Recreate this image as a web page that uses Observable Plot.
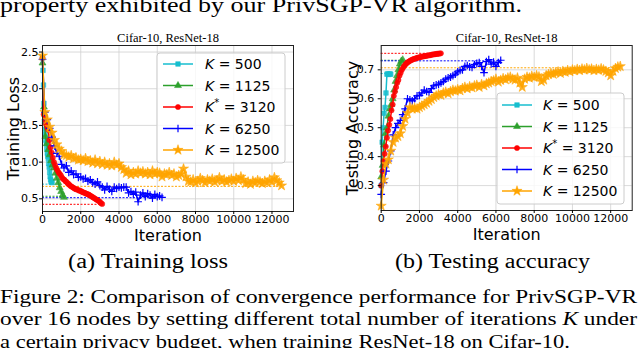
<!DOCTYPE html>
<html><head><meta charset="utf-8">
<script src="https://cdn.jsdelivr.net/npm/d3@7"></script>
<script src="https://cdn.jsdelivr.net/npm/@observablehq/plot@0.6"></script>
<style>
body{margin:0;background:#fff;}
#page{position:relative;width:640px;height:348px;overflow:hidden;background:#fff;}
#left,#right{position:absolute;top:0;}
#left{left:0;} #right{left:320px;}
#pagetext{position:absolute;left:0;top:0;}
</style></head>
<body><div id="page"><div id="left"></div><div id="right"></div><svg id="pagetext" width="640" height="348"></svg></div>
<script>
// ---------- data ----------
const seriesNames = ["K=500", "K=1125", "K*=3120", "K=6250", "K=12500"];
const legendValues = ["500", "1125", "3120", "6250", "12500"];
const legendStar = [false, false, true, false, false];
const lastIter = [500, 1125, 3120, 6250, 12500];
const stepsTrain = [25, 75, 60, 125, 125];
const stepsTest = [50, 75, 60, 125, 125];
const xTicks = [0, 2000, 4000, 6000, 8000, 10000, 12000];
const lossTicks = [0.5, 1.0, 1.5, 2.0, 2.5];
const accTicks = [0.3, 0.4, 0.5, 0.6, 0.7];

const loss500 = [2.42, 2.25, 2.05, 1.80, 1.55, 1.45, 1.38, 1.30, 1.25, 1.18,
  1.12, 1.08, 1.05, 0.98, 0.93, 0.86, 0.80, 0.76, 0.73, 0.74, 0.72];
const loss1125 = [2.35, 1.75, 1.35, 1.25, 1.17, 1.10, 1.02, 0.96, 0.92, 0.85,
  0.78, 0.72, 0.65, 0.60, 0.55, 0.52];
const loss3120 = [2.42, 1.65, 1.58, 1.52, 1.48, 1.44, 1.30, 1.20, 1.13, 1.06,
  1.00, 0.96, 0.92, 0.89, 0.86, 0.84, 0.82, 0.79, 0.77, 0.76,
  0.74, 0.73, 0.71, 0.70, 0.68, 0.67, 0.66, 0.65, 0.64, 0.63,
  0.63, 0.62, 0.61, 0.61, 0.60, 0.59, 0.585, 0.58, 0.57, 0.565,
  0.56, 0.55, 0.54, 0.53, 0.52, 0.51, 0.50, 0.49, 0.48, 0.47,
  0.46, 0.44, 0.43];
const loss6250 = [2.40, 1.68, 1.58, 1.46, 1.34, 1.22, 1.12, 1.08, 0.97, 0.92,
  0.95, 0.86, 0.88, 0.83, 0.84, 0.79, 0.80, 0.77, 0.78, 0.74,
  0.76, 0.72, 0.70, 0.73, 0.68, 0.66, 0.62, 0.67, 0.63, 0.60,
  0.66, 0.64, 0.66, 0.65, 0.66, 0.66, 0.58, 0.60, 0.56, 0.59,
  0.46, 0.55, 0.58, 0.53, 0.57, 0.55, 0.51, 0.56, 0.53, 0.54,
  0.52];
const loss12500 = [2.45, 1.68, 1.58, 1.48, 1.40, 1.30, 1.24, 1.18, 1.15, 1.10,
  1.09, 1.07, 1.09, 1.05, 1.06, 1.03, 1.04, 1.02, 1.05, 1.01,
  1.02, 0.99, 1.03, 0.98, 1.01, 0.97, 1.00, 0.96, 0.98, 0.95,
  1.00, 0.96, 0.98, 0.93, 0.90, 0.85, 0.88, 0.83, 0.86, 0.84,
  0.88, 0.85, 0.87, 0.84, 0.86, 0.83, 0.88, 0.84, 0.86, 0.85,
  0.80, 0.84, 0.83, 0.86, 0.82, 0.84, 0.80, 0.82, 0.84, 0.91,
  0.80, 0.74, 0.73, 0.76, 0.72, 0.74, 0.78, 0.75, 0.72, 0.76,
  0.74, 0.77, 0.73, 0.75, 0.79, 0.74, 0.76, 0.73, 0.75, 0.77,
  0.74, 0.78, 0.75, 0.80, 0.76, 0.71, 0.73, 0.70, 0.74, 0.72,
  0.75, 0.73, 0.71, 0.74, 0.72, 0.76, 0.73, 0.79, 0.75, 0.72,
  0.68];
const lossRef = [0.70, 0.535, 0.425, 0.515, 0.67];

const acc500 = [0.30, 0.45, 0.50, 0.55, 0.57, 0.62, 0.685, 0.686, 0.684, 0.686, 0.685];
const acc1125 = [0.33, 0.37, 0.44, 0.48, 0.50, 0.54, 0.565, 0.58, 0.60, 0.63,
  0.66, 0.68, 0.70, 0.72, 0.73, 0.735];
const acc3120 = [0.30, 0.35, 0.385, 0.41, 0.435, 0.465, 0.49, 0.51, 0.53, 0.56,
  0.58, 0.61, 0.625, 0.64, 0.655, 0.665, 0.68, 0.69, 0.70, 0.707,
  0.713, 0.718, 0.722, 0.726, 0.728, 0.731, 0.733, 0.735, 0.737, 0.738,
  0.739, 0.741, 0.742, 0.743, 0.744, 0.745, 0.746, 0.746, 0.748, 0.748,
  0.749, 0.750, 0.750, 0.751, 0.752, 0.753, 0.753, 0.754, 0.755, 0.755,
  0.756, 0.756, 0.757];
const acc6250 = [0.27, 0.31, 0.35, 0.385, 0.42, 0.475, 0.50, 0.515, 0.525, 0.545,
  0.565, 0.60, 0.596, 0.593, 0.60, 0.61, 0.612, 0.62, 0.63, 0.625,
  0.622, 0.635, 0.645, 0.648, 0.65, 0.655, 0.66, 0.668, 0.672, 0.675,
  0.68, 0.685, 0.693, 0.698, 0.70, 0.712, 0.715, 0.71, 0.708, 0.718,
  0.722, 0.725, 0.712, 0.69, 0.728, 0.735, 0.72, 0.727, 0.712, 0.725,
  0.733];
const acc12500 = [0.23, 0.32, 0.375, 0.39, 0.42, 0.45, 0.465, 0.47, 0.48, 0.505,
  0.53, 0.55, 0.57, 0.565, 0.568, 0.565, 0.57, 0.575, 0.58, 0.585,
  0.592, 0.598, 0.605, 0.61, 0.615, 0.612, 0.62, 0.623, 0.618, 0.625,
  0.63, 0.627, 0.632, 0.628, 0.636, 0.64, 0.635, 0.642, 0.638, 0.645,
  0.647, 0.64, 0.65, 0.645, 0.652, 0.655, 0.66, 0.662, 0.668, 0.658,
  0.664, 0.67, 0.666, 0.672, 0.675, 0.668, 0.665, 0.672, 0.655, 0.64,
  0.668, 0.675, 0.672, 0.678, 0.674, 0.68, 0.676, 0.66, 0.665, 0.68,
  0.684, 0.688, 0.685, 0.69, 0.693, 0.688, 0.695, 0.692, 0.698, 0.694,
  0.70, 0.697, 0.702, 0.698, 0.703, 0.70, 0.705, 0.70, 0.703, 0.698,
  0.702, 0.699, 0.704, 0.70, 0.695, 0.69, 0.68, 0.695, 0.705, 0.71,
  0.712];
const accRef = [0.687, 0.733, 0.757, 0.731, 0.707];

// ---------- styles ----------
const seriesColors = ["#17becf", "#2ca02c", "#ff0000", "#0000ff", "#ffa500"];
const plotSymbols = ["square", "triangle", "circle", "plus", "star"];
const d3Symbols = [d3.symbolSquare, d3.symbolTriangle, d3.symbolCircle, d3.symbolPlus, d3.symbolStar];

function buildChart(cfg) {
  const marks = [
    Plot.gridX(xTicks, {stroke: "#d0d0d0", strokeOpacity: 1, strokeWidth: 0.8}),
    Plot.gridY(cfg.yTicks, {stroke: "#d0d0d0", strokeOpacity: 1, strokeWidth: 0.8}),
    Plot.ruleY(cfg.refs.map((v, i) => ({v, i})), {
      y: "v", x1: 0, x2: d => lastIter[d.i], stroke: d => seriesNames[d.i],
      strokeDasharray: "2,1.5", strokeWidth: 1
    })
  ];
  cfg.series.forEach((vals, i) => {
    const rows = vals.map((v, j) => ({x: j * cfg.steps[i], y: v}));
    marks.push(Plot.line(rows, {x: "x", y: "y", stroke: seriesColors[i], strokeWidth: 1.5}));
    marks.push(Plot.dot(rows, {
      x: "x", y: "y", symbol: plotSymbols[i], r: i === 4 ? 3.2 : 2.6,
      fill: i === 3 ? "none" : seriesColors[i], stroke: seriesColors[i],
      strokeWidth: i === 3 ? 1.2 : 0.5, fillOpacity: 0.85
    }));
  });
  marks.push(
    Plot.frame({stroke: "#222", strokeWidth: 1}),
    Plot.axisX(xTicks, {tickSize: 3, tickPadding: 0.5, label: null, fontSize: 11, tickFormat: d => String(d)}),
    Plot.axisY(cfg.yTicks, {tickSize: 3, tickPadding: cfg.yPad, label: null, fontSize: 11, tickFormat: d => d.toFixed(1)}),
    Plot.text([cfg.ylabel], {text: d => d, frameAnchor: "left", textAnchor: "middle", lineAnchor: "middle",
      rotate: -90, dx: cfg.ylabelDx, fontSize: 16, fill: "black"}),
    Plot.text(["Iteration"], {text: d => d, frameAnchor: "bottom", textAnchor: "middle", lineAnchor: "middle",
      dy: 24, fontSize: 16, fill: "black"}),
    Plot.text(["Cifar-10, ResNet-18"], {text: d => d, frameAnchor: "top", textAnchor: "middle", lineAnchor: "middle",
      dy: -8, fontSize: 12.5, fontFamily: "Liberation Serif", fill: "black"})
  );
  const svg = Plot.plot({
    width: 320, height: 250,
    marginLeft: cfg.ml, marginRight: cfg.mr, marginTop: 45, marginBottom: cfg.mb,
    style: {fontFamily: "DejaVu Sans", fontSize: "11px", color: "black", background: "transparent", overflow: "visible"},
    x: {domain: [0, 13125]},
    y: {domain: cfg.yDomain},
    color: {domain: seriesNames, range: seriesColors},
    marks
  });
  addLegend(svg, cfg.legend);
  return svg;
}

function addLegend(svg, b) {
  const g = d3.select(svg).append("g").attr("text-anchor", "start");
  g.append("rect").attr("x", b.x).attr("y", b.y).attr("width", b.w).attr("height", b.h)
    .attr("rx", 3).attr("fill", "white").attr("fill-opacity", 0.8).attr("stroke", "#cccccc");
  seriesNames.forEach((n, i) => {
    const y = b.y0 + i * b.gap;
    g.append("line").attr("x1", b.lx).attr("x2", b.lx + 30).attr("y1", y).attr("y2", y)
      .attr("stroke", seriesColors[i]).attr("stroke-width", 1.5);
    const r = i === 4 ? 3.2 : 2.6;
    g.append("path").attr("d", d3.symbol(d3Symbols[i], Math.PI * r * r)())
      .attr("transform", `translate(${b.lx + 15},${y})`)
      .attr("fill", i === 3 ? "none" : seriesColors[i]).attr("stroke", seriesColors[i])
      .attr("stroke-width", i === 3 ? 1.2 : 0.5);
    const t = g.append("text").attr("x", b.tx).attr("y", y + 5).attr("text-anchor", "start")
      .attr("font-family", "DejaVu Sans").attr("font-size", 14).attr("fill", "black");
    t.append("tspan").attr("font-style", "italic").text("K");
    if (legendStar[i]) t.append("tspan").attr("dy", -6).attr("font-size", 10).text("*");
    t.append("tspan").attr("dy", legendStar[i] ? 6 : 0).text(" = " + legendValues[i]);
  });
}

document.getElementById("left").appendChild(buildChart({
  series: [loss500, loss1125, loss3120, loss6250, loss12500], steps: stepsTrain, refs: lossRef,
  yTicks: lossTicks, yDomain: [0.327, 2.589], yPad: 1, ylabel: "Training Loss", ylabelDx: -29,
  ml: 42, mr: 27, mb: 39,
  legend: {x: 157, y: 53, w: 128, h: 110, y0: 64, gap: 21.5, lx: 163, tx: 205}
}));
document.getElementById("right").appendChild(buildChart({
  series: [acc500, acc1125, acc3120, acc6250, acc12500], steps: stepsTest, refs: accRef,
  yTicks: accTicks, yDomain: [0.214, 0.784], yPad: 4, ylabel: "Testing Accuracy", ylabelDx: -28,
  ml: 60.7, mr: 8.3, mb: 40,
  legend: {x: 177, y: 93, w: 127, h: 111, y0: 105, gap: 21.5, lx: 182, tx: 223}
}));

// ---------- page text ----------
const pageLines = [
  {parts: [["property exhibited by our PrivSGP-VR algorithm.", false]], x: 0, y: 12, size: 22, len: 522},
  {parts: [["(a) Training loss", false]], x: 68, y: 268, size: 20, len: 160},
  {parts: [["(b) Testing accuracy", false]], x: 395, y: 268, size: 20, len: 195},
  {parts: [["Figure 2: Comparison of convergence performance for PrivSGP-VR", false]], x: 0, y: 303, size: 19.5, len: 637},
  {parts: [["over 16 nodes by setting different total number of iterations ", false], ["K", true], [" under", false]], x: 0, y: 325, size: 19.5, len: 637},
  {parts: [["a certain privacy budget, when training ResNet-18 on Cifar-10.", false]], x: 0, y: 348, size: 19.5, len: 570}
];
const pt = d3.select("#pagetext");
pageLines.forEach(l => {
  const t = pt.append("text").attr("x", l.x).attr("y", l.y).attr("font-family", "Liberation Serif")
    .attr("font-size", l.size).attr("fill", "black").attr("textLength", l.len)
    .attr("lengthAdjust", "spacingAndGlyphs").attr("xml:space", "preserve");
  l.parts.forEach(([s, it]) => {
    const sp = t.append("tspan").text(s);
    if (it) sp.attr("font-style", "italic");
  });
});
</script></body></html>
